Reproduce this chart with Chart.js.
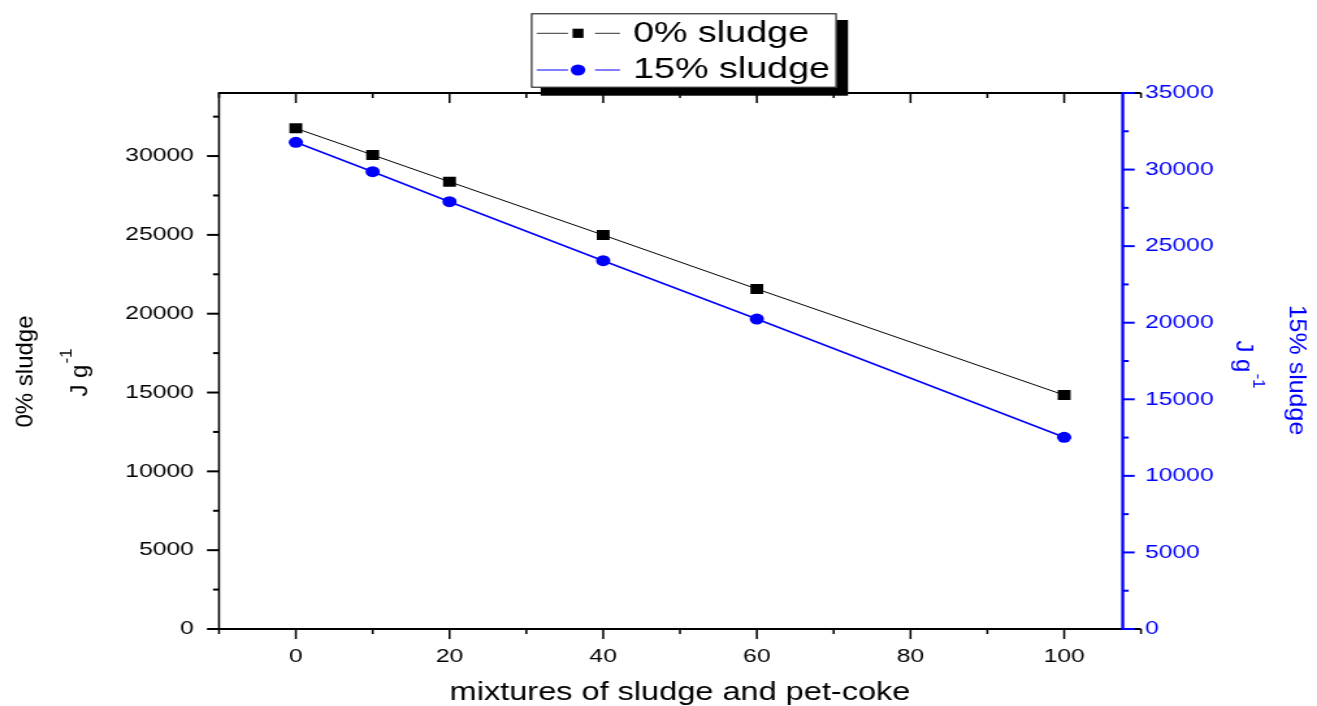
<!DOCTYPE html>
<html><head><meta charset="utf-8">
<script src="https://cdn.jsdelivr.net/npm/chart.js@4"></script>
<style>
html,body{margin:0;padding:0;background:#fff;overflow:hidden;}
#wrap{position:absolute;left:0;top:0;width:1013px;height:706px;transform:scaleX(1.30010);transform-origin:0 0;}
</style></head><body>
<div id="wrap"><canvas id="c"></canvas></div>
<script>
// ---- data ----
const mixtures = [0, 10, 20, 40, 60, 100];
const sludge0 = [31760, 30070, 28370, 24990, 21570, 14840];
const sludge15 = [31780, 29860, 27900, 24050, 20240, 12520];
const seriesNames = ['0% sludge', '15% sludge'];
const xTitle = 'mixtures of sludge and pet-coke';
const leftTitle = ['0% sludge', 'J g', '-1'];
const rightTitle = ['15% sludge', 'J g', '-1'];

// ---- ticks ----
const xMajorTicks = [0, 20, 40, 60, 80, 100];
const xMinorTicks = [-10, 10, 30, 50, 70, 90, 110];
const leftMajorTicks = [0, 5000, 10000, 15000, 20000, 25000, 30000];
const leftMinorTicks = [2500, 7500, 12500, 17500, 22500, 27500, 32500];
const rightMajorTicks = [0, 5000, 10000, 15000, 20000, 25000, 30000, 35000];
const rightMinorTicks = [2500, 7500, 12500, 17500, 22500, 27500, 32500];

const S = 1317 / 1013;
const BLUE = '#0000ff';
const FONT = '"Liberation Sans", Arial, sans-serif';

function seg(ctx, x1, y1, x2, y2) { ctx.beginPath(); ctx.moveTo(x1, y1); ctx.lineTo(x2, y2); ctx.stroke(); }

function setTicks(majors, minors) {
  return function (scale) {
    scale.ticks = majors.concat(minors).sort((a, b) => a - b).map(v => ({ value: v, major: majors.includes(v) }));
  };
}
function labelFor(majors) {
  return v => majors.includes(v) ? String(v) : '';
}

function rotTitle(ctx, bx, cy, ang, main, sup, size, color) {
  ctx.save();
  ctx.translate(bx, cy);
  ctx.rotate(ang);
  ctx.fillStyle = color;
  ctx.textBaseline = 'alphabetic';
  ctx.textAlign = 'left';
  const supSize = 17;
  ctx.font = size + 'px ' + FONT;
  const w1 = ctx.measureText(main).width;
  let w2 = 0;
  if (sup) { ctx.font = supSize + 'px ' + FONT; w2 = ctx.measureText(sup).width; }
  const start = -(w1 + w2) / 2;
  ctx.font = size + 'px ' + FONT;
  ctx.fillText(main, start, 0);
  if (sup) { ctx.font = supSize + 'px ' + FONT; ctx.fillText(sup, start + w1 + 1, -16); }
  ctx.restore();
}

const framePlugin = {
  id: 'frame',
  afterDraw(chart) {
    const { ctx, chartArea: a, scales } = chart;
    const x = scales.x, y = scales.y, y1 = scales.y1;
    ctx.save();
    ctx.lineCap = 'butt';
    // black frame
    ctx.strokeStyle = '#000';
    ctx.lineWidth = 2;
    seg(ctx, a.left - 1 / S, a.bottom, a.right, a.bottom);
    seg(ctx, a.left - 1 / S, a.top, a.right, a.top);
    ctx.lineWidth = 2 / S;
    seg(ctx, a.left, a.top, a.left, a.bottom + 1);
    // x ticks (bottom outward, top inward)
    ctx.lineWidth = 2 / S;
    xMajorTicks.concat(xMinorTicks).forEach(v => {
      const px = x.getPixelForValue(v);
      const L = xMajorTicks.includes(v) ? 10 : 5;
      seg(ctx, px, a.bottom, px, a.bottom + L);
      seg(ctx, px, a.top, px, a.top + L);
    });
    // left y ticks
    ctx.lineWidth = 2;
    leftMajorTicks.concat(leftMinorTicks).forEach(v => {
      const py = y.getPixelForValue(v);
      const L = (leftMajorTicks.includes(v) ? 12 : 6) / S;
      seg(ctx, a.left - L, py, a.left, py);
    });
    // blue right axis
    const bx = a.right - 18.3 / S;
    ctx.strokeStyle = BLUE;
    ctx.lineWidth = 3 / S;
    seg(ctx, bx, a.top - 1, bx, a.bottom + 1);
    ctx.lineWidth = 2;
    rightMajorTicks.concat(rightMinorTicks).forEach(v => {
      const py = y1.getPixelForValue(v);
      const L = (rightMajorTicks.includes(v) ? 12 : 6) / S;
      seg(ctx, bx, py, bx + L, py);
    });

    // axis titles (drawn in screen pixel space, unstretched)
    ctx.save();
    ctx.scale(1 / S, 1);
    rotTitle(ctx, 33, 371.5, -Math.PI / 2, leftTitle[0], null, 24, '#000');
    rotTitle(ctx, 87, 373, -Math.PI / 2, leftTitle[1], leftTitle[2], 24, '#000');
    rotTitle(ctx, 1290, 370, Math.PI / 2, rightTitle[0], null, 25, BLUE);
    rotTitle(ctx, 1237, 364, Math.PI / 2, rightTitle[1], rightTitle[2], 24, BLUE);
    ctx.restore();

    // legend with shadow
    ctx.fillStyle = '#000';
    ctx.fillRect(540.7 / S, 20, (848 - 540.7) / S, 95.7 - 20);
    const lx = 531 / S, ly = 13.3, lw = (836.7 - 531) / S, lh = 87.7 - 13.3;
    ctx.fillStyle = '#fff';
    ctx.fillRect(lx, ly, lw, lh);
    ctx.strokeStyle = '#000';
    ctx.lineWidth = 1;
    ctx.strokeRect(lx + 0.5, ly + 0.5, lw - 1, lh - 1);
    const rowsY = [33.3, 70];
    const baseY = [42.3, 78.3];
    chart.data.datasets.forEach((ds, i) => {
      const cy = rowsY[i];
      ctx.strokeStyle = i === 0 ? '#333' : BLUE;
      ctx.lineWidth = 1;
      seg(ctx, 536.7 / S, cy, 568 / S, cy);
      seg(ctx, 595 / S, cy, 620 / S, cy);
      ctx.fillStyle = ds.pointBackgroundColor;
      const mx = 578 / S;
      if (ds.pointStyle === 'rect') {
        ctx.fillRect(mx - 4.2, cy - 4.6, 8.4, 9.2);
      } else {
        ctx.beginPath(); ctx.arc(mx, cy, 5.6, 0, Math.PI * 2); ctx.fill();
      }
      ctx.fillStyle = '#000';
      ctx.font = '29px ' + FONT;
      ctx.textAlign = 'left';
      ctx.textBaseline = 'alphabetic';
      ctx.fillText(ds.label, 633 / S, baseY[i]);
    });
    ctx.restore();
  }
};

const tickFont = { family: FONT, size: 19 };

new Chart(document.getElementById('c'), {
  type: 'line',
  data: {
    datasets: [
      {
        label: seriesNames[0],
        data: mixtures.map((v, i) => ({ x: v, y: sludge0[i] })),
        yAxisID: 'y',
        borderColor: '#000', borderWidth: 1,
        pointStyle: 'rect', pointRadius: 7,
        pointBackgroundColor: '#000', pointBorderWidth: 0,
        fill: false, tension: 0
      },
      {
        label: seriesNames[1],
        data: mixtures.map((v, i) => ({ x: v, y: sludge15[i] })),
        yAxisID: 'y1',
        borderColor: BLUE, borderWidth: 1.6,
        pointStyle: 'circle', pointRadius: 5.5,
        pointBackgroundColor: BLUE, pointBorderWidth: 0,
        fill: false, tension: 0
      }
    ]
  },
  options: {
    responsive: true,
    maintainAspectRatio: false,
    animation: false,
    layout: { padding: { top: 93, left: 0, right: 0, bottom: 0 } },
    plugins: { legend: { display: false }, tooltip: { enabled: false } },
    scales: {
      x: {
        type: 'linear', position: 'bottom', min: -10, max: 110,
        afterBuildTicks: setTicks(xMajorTicks, xMinorTicks),
        afterFit(s) { s.height = 77; },
        grid: { display: false, drawTicks: false },
        border: { display: false },
        ticks: {
          autoSkip: false, maxRotation: 0, padding: 16,
          color: '#000', font: tickFont,
          callback: labelFor(xMajorTicks)
        },
        title: {
          display: true, text: xTitle, color: '#000',
          font: { family: FONT, size: 25, lineHeight: 1 },
          padding: { top: 0, bottom: 0 }
        }
      },
      y: {
        type: 'linear', position: 'left', min: 0, max: 34000,
        afterBuildTicks: setTicks(leftMajorTicks, leftMinorTicks),
        afterFit(s) { s.width = 219 / S; },
        grid: { display: false, drawTicks: false },
        border: { display: false },
        ticks: {
          autoSkip: false, padding: 19.3,
          color: '#000', font: tickFont,
          callback: labelFor(leftMajorTicks)
        }
      },
      y1: {
        type: 'linear', position: 'right', min: 0, max: 35000,
        afterBuildTicks: setTicks(rightMajorTicks, rightMinorTicks),
        afterFit(s) { s.width = 1013 - 1141 / S; },
        grid: { display: false, drawTicks: false },
        border: { display: false },
        ticks: {
          autoSkip: false, padding: 3,
          color: BLUE, font: tickFont,
          callback: labelFor(rightMajorTicks)
        }
      }
    }
  },
  plugins: [framePlugin]
});
</script>
</body></html>
